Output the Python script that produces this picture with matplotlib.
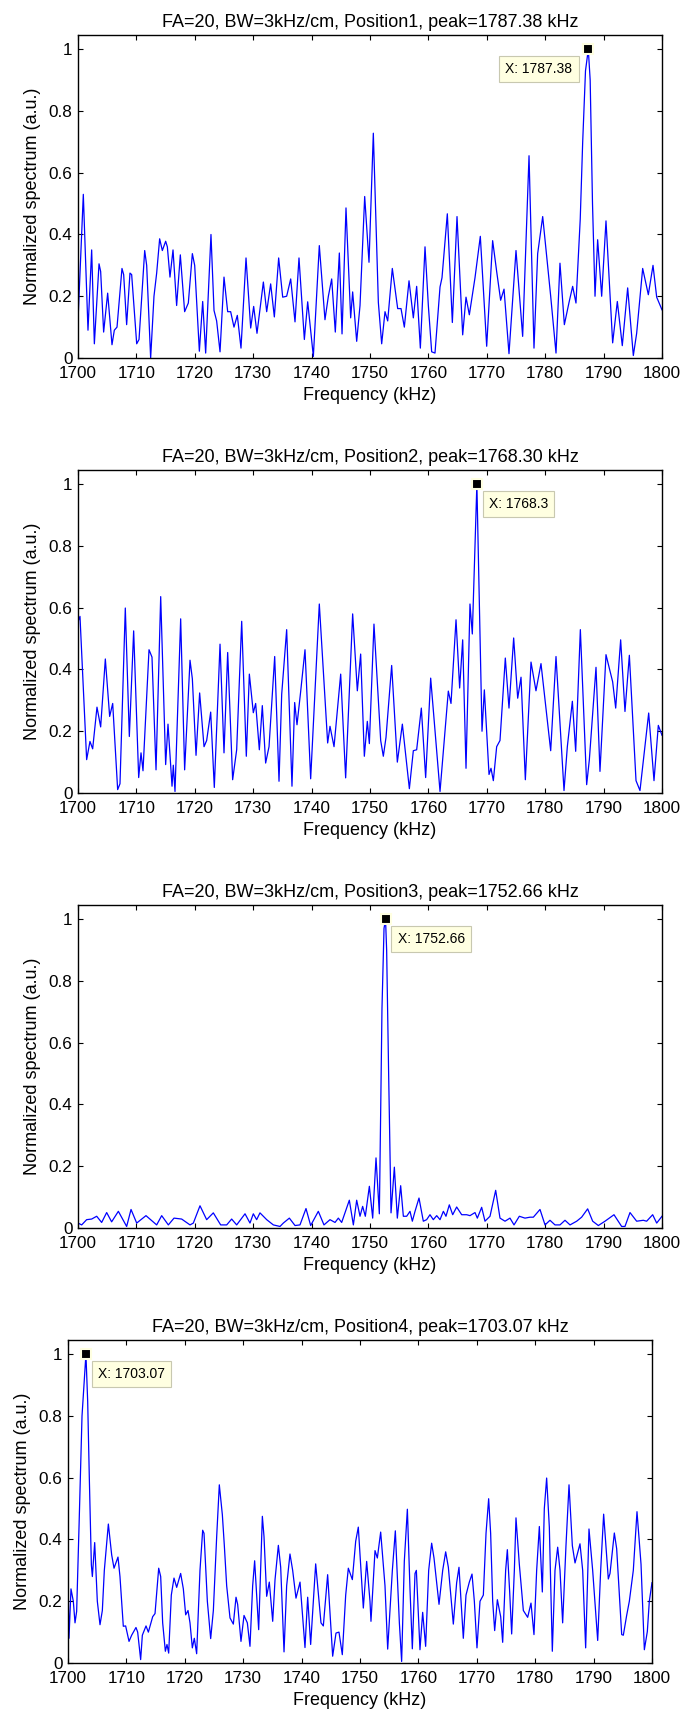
import matplotlib
matplotlib.use('Agg')
import matplotlib.pyplot as plt

plt.rcParams['font.family'] = ['Liberation Sans', 'DejaVu Sans']

# Position 1
freq1 = [1700.0, 1700.91, 1701.71, 1702.34, 1702.80, 1703.60, 1703.88, 1704.39, 1705.08, 1705.82,
         1706.22, 1706.68, 1707.53, 1707.82, 1708.33, 1708.90, 1709.19, 1710.05, 1710.45, 1711.42,
         1711.76, 1712.44, 1713.01, 1713.47, 1713.98, 1714.44, 1715.01, 1715.30, 1715.75, 1716.27,
         1716.89, 1717.52, 1718.26, 1718.89, 1719.58, 1719.98, 1720.78, 1721.35, 1721.86, 1722.77,
         1723.29, 1723.74, 1724.32, 1725.00, 1725.63, 1726.14, 1726.71, 1727.28, 1727.91, 1728.77,
         1729.57, 1730.08, 1730.65, 1731.74, 1732.31, 1732.99, 1733.62, 1734.36, 1735.05, 1735.73,
         1736.42, 1737.16, 1737.84, 1738.76, 1739.33, 1740.30, 1741.32, 1742.29, 1742.87, 1743.44,
         1744.06, 1744.75, 1745.21, 1745.89, 1746.69, 1747.03, 1747.72, 1748.29, 1749.09, 1749.83,
         1750.57, 1751.43, 1752.00, 1752.57, 1753.03, 1753.82, 1754.74, 1755.31, 1755.88, 1756.68,
         1757.42, 1757.99, 1758.62, 1759.42, 1759.99, 1760.56, 1761.13, 1761.99, 1762.33, 1763.24,
         1764.10, 1764.90, 1765.87, 1766.44, 1767.01, 1767.98, 1768.89, 1769.98, 1771.00, 1771.69,
         1772.37, 1772.95, 1773.80, 1775.00, 1776.14, 1777.23, 1778.08, 1778.71, 1779.57, 1780.94,
         1781.85, 1782.53, 1783.28, 1784.08, 1784.70, 1785.27, 1786.00, 1786.42, 1786.90, 1787.38,
         1787.70, 1788.10, 1788.53, 1788.98, 1789.67, 1790.41, 1791.55, 1792.35, 1793.20, 1794.12,
         1795.09, 1795.66, 1796.69, 1797.66, 1798.46, 1799.09, 1800.0]
spec1 = [0.12, 0.53, 0.09, 0.35, 0.046, 0.305, 0.28, 0.084, 0.21, 0.043,
         0.09, 0.10, 0.29, 0.27, 0.108, 0.275, 0.27, 0.046, 0.06, 0.348,
         0.30, 0.0, 0.2, 0.275, 0.386, 0.348, 0.378, 0.36, 0.262, 0.35,
         0.17, 0.334, 0.15, 0.178, 0.338, 0.30, 0.022, 0.183, 0.016, 0.40,
         0.154, 0.12, 0.02, 0.262, 0.15, 0.15, 0.10, 0.138, 0.032, 0.324,
         0.097, 0.167, 0.08, 0.246, 0.15, 0.24, 0.133, 0.324, 0.197, 0.2,
         0.256, 0.117, 0.324, 0.06, 0.182, 0.005, 0.364, 0.124, 0.2, 0.256,
         0.084, 0.34, 0.078, 0.486, 0.13, 0.214, 0.054, 0.17, 0.523, 0.31,
         0.728, 0.18, 0.046, 0.15, 0.12, 0.29, 0.16, 0.16, 0.10, 0.25,
         0.13, 0.232, 0.032, 0.36, 0.17, 0.02, 0.016, 0.23, 0.26, 0.467,
         0.115, 0.458, 0.075, 0.197, 0.14, 0.26, 0.394, 0.038, 0.38, 0.28,
         0.187, 0.223, 0.014, 0.348, 0.07, 0.655, 0.032, 0.338, 0.458, 0.2,
         0.016, 0.307, 0.108, 0.18, 0.232, 0.178, 0.45, 0.7, 0.93, 1.0,
         0.9, 0.5, 0.2, 0.383, 0.2, 0.444, 0.049, 0.183, 0.04, 0.227,
         0.008, 0.08, 0.29, 0.205, 0.30, 0.197, 0.156]

# Position 2
freq2 = [1700.0, 1700.34, 1701.48, 1702.05, 1702.51, 1703.25, 1703.88, 1704.68, 1705.42, 1705.94,
         1706.79, 1707.19, 1708.10, 1708.79, 1709.53, 1710.39, 1710.79, 1711.13, 1712.16, 1712.67,
         1713.36, 1714.16, 1715.01, 1715.41, 1716.10, 1716.32, 1716.61, 1717.58, 1718.26, 1719.18,
         1719.58, 1720.21, 1720.83, 1721.58, 1722.03, 1722.72, 1723.34, 1724.32, 1725.00, 1725.63,
         1726.48, 1727.17, 1728.03, 1728.82, 1729.34, 1730.02, 1730.42, 1731.05, 1731.56, 1732.13,
         1732.71, 1733.68, 1734.42, 1734.88, 1735.73, 1736.64, 1737.10, 1737.50, 1738.13, 1738.87,
         1739.84, 1741.32, 1742.75, 1743.15, 1743.84, 1744.98, 1745.83, 1747.03, 1747.83, 1748.40,
         1749.03, 1749.54, 1749.89,
         1750.68, 1751.83, 1752.28, 1752.74, 1753.71, 1754.68, 1755.54, 1756.74, 1757.42, 1757.99,
         1758.79, 1759.53, 1760.39, 1761.99, 1763.41, 1763.87, 1764.73, 1765.35, 1765.87, 1766.44,
         1767.12, 1767.52, 1768.30, 1769.18, 1769.58, 1770.38, 1770.72, 1771.12, 1771.69, 1772.26,
         1773.17, 1773.80, 1774.60, 1775.29, 1775.86, 1776.60, 1777.57, 1778.42, 1779.28, 1780.94,
         1781.85, 1783.22, 1783.79, 1784.65, 1785.22, 1786.02, 1787.10, 1787.56, 1788.70, 1789.38,
         1790.41, 1791.55, 1792.07, 1792.92, 1793.66, 1794.41, 1795.55, 1796.23, 1797.72, 1798.63,
         1799.37, 1800.0]
spec2 = [0.555, 0.572, 0.108, 0.167, 0.143, 0.278, 0.214, 0.434, 0.248, 0.29,
         0.011, 0.03, 0.599, 0.183, 0.525, 0.05, 0.13, 0.072, 0.464, 0.44,
         0.075, 0.636, 0.092, 0.223, 0.022, 0.09, 0.005, 0.564, 0.075, 0.43,
         0.37, 0.122, 0.324, 0.15, 0.17, 0.262, 0.018, 0.482, 0.13, 0.455,
         0.043, 0.14, 0.556, 0.119, 0.385, 0.26, 0.29, 0.14, 0.283, 0.097,
         0.15, 0.442, 0.038, 0.32, 0.529, 0.022, 0.293, 0.221, 0.329, 0.464,
         0.046, 0.612, 0.162, 0.216, 0.15, 0.385, 0.049, 0.58, 0.331, 0.45,
         0.119, 0.232, 0.16,
         0.547, 0.17, 0.119, 0.18, 0.413, 0.10, 0.223, 0.014, 0.137, 0.14,
         0.275, 0.05, 0.372, 0.005, 0.33, 0.29, 0.561, 0.34, 0.496, 0.08,
         0.612, 0.515, 1.0, 0.2, 0.334, 0.06, 0.08, 0.04, 0.15, 0.17,
         0.437, 0.275, 0.502, 0.307, 0.375, 0.043, 0.424, 0.331, 0.419, 0.137,
         0.442, 0.008, 0.15, 0.297, 0.135, 0.529, 0.027, 0.108, 0.407, 0.07,
         0.448, 0.36, 0.275, 0.496, 0.264, 0.446, 0.04, 0.008, 0.259, 0.04,
         0.219, 0.187]

# Position 3
freq3 = [1700.0, 1700.63, 1701.48, 1702.34, 1703.20, 1704.05, 1704.91, 1705.76, 1706.91, 1708.33,
         1709.08, 1710.05, 1711.64, 1713.47, 1714.33, 1715.47, 1716.44, 1717.75, 1719.18, 1719.75,
         1720.89, 1722.03, 1723.17, 1724.43, 1725.46, 1726.31, 1727.17, 1728.60, 1729.45, 1730.02,
         1730.59, 1731.16, 1732.31, 1733.45, 1734.59, 1735.16, 1736.19, 1737.16, 1738.01, 1739.04,
         1739.84, 1741.15, 1742.12, 1743.15, 1744.01, 1744.58, 1745.15, 1746.46, 1747.15, 1747.72,
         1748.29, 1748.74, 1749.20, 1749.89,
         1750.46, 1751.03, 1751.60, 1751.83, 1752.05, 1752.40, 1752.66, 1752.85, 1753.20, 1753.60,
         1754.17, 1754.68, 1755.25, 1755.71, 1756.28, 1756.85, 1757.25, 1757.71, 1758.39, 1759.13,
         1759.70, 1760.27, 1760.84, 1761.42, 1761.99, 1762.56, 1763.01, 1763.58, 1764.16, 1764.84,
         1765.70, 1766.55, 1767.12, 1767.98, 1768.38, 1769.12, 1769.69, 1770.55, 1771.52, 1772.26,
         1773.12, 1773.97, 1774.66, 1775.57, 1776.54, 1777.40, 1777.97, 1779.11, 1779.97, 1780.82,
         1781.68, 1782.53, 1783.39, 1784.25, 1785.39, 1786.24, 1787.27, 1788.13, 1789.10, 1790.24,
         1791.78, 1793.09, 1793.66, 1794.52, 1795.66, 1796.80, 1797.37, 1798.40, 1799.09, 1800.0]
spec3 = [0.016, 0.01, 0.027, 0.029, 0.038, 0.018, 0.05, 0.02, 0.054, 0.005,
         0.06, 0.016, 0.04, 0.01, 0.04, 0.01, 0.032, 0.029, 0.01, 0.016,
         0.072, 0.027, 0.049, 0.01, 0.01, 0.029, 0.01, 0.046, 0.016, 0.046,
         0.027, 0.049, 0.027, 0.01, 0.005, 0.016, 0.032, 0.008, 0.01, 0.063,
         0.008, 0.054, 0.01, 0.027, 0.018, 0.032, 0.018, 0.09, 0.01, 0.09,
         0.038, 0.07, 0.038, 0.135,
         0.032, 0.227, 0.046, 0.38, 0.71, 0.97, 1.0, 0.9, 0.49, 0.049,
         0.197, 0.032, 0.137, 0.038, 0.038, 0.054, 0.022, 0.054, 0.097, 0.022,
         0.027, 0.043, 0.027, 0.04, 0.027, 0.054, 0.038, 0.075, 0.043, 0.068,
         0.043, 0.043, 0.04, 0.05, 0.032, 0.067, 0.022, 0.038, 0.122, 0.032,
         0.022, 0.032, 0.01, 0.038, 0.032, 0.035, 0.035, 0.06, 0.01, 0.025,
         0.01, 0.01, 0.025, 0.01, 0.022, 0.035, 0.062, 0.022, 0.008, 0.022,
         0.043, 0.005, 0.005, 0.05, 0.022, 0.025, 0.022, 0.043, 0.016, 0.038]

# Position 4
freq4 = [1700.00, 1700.17, 1700.51, 1700.91, 1701.20, 1701.48, 1701.90, 1702.40, 1703.07, 1703.37,
         1703.65, 1704.00, 1704.17, 1704.57, 1705.02, 1705.48, 1705.88, 1706.22, 1706.91, 1707.48,
         1707.88, 1708.56, 1708.90, 1709.47, 1709.87, 1710.45, 1710.90, 1711.64, 1711.93, 1712.44,
         1712.73, 1713.36, 1713.76, 1714.50, 1714.90, 1715.53, 1715.87, 1716.21, 1716.67, 1716.95,
         1717.24, 1717.69, 1718.15, 1718.61, 1719.29, 1719.75, 1720.15, 1720.55, 1720.89, 1721.29,
         1721.63, 1722.03, 1722.60, 1723.06, 1723.29, 1723.86, 1724.43, 1724.89, 1725.46, 1725.91,
         1726.43, 1726.77, 1727.17, 1727.74, 1728.31, 1728.77, 1729.05, 1729.62, 1730.14, 1730.71,
         1731.16, 1731.62, 1731.96, 1732.31, 1732.65, 1733.28, 1733.56, 1734.02, 1734.47, 1735.05,
         1735.45, 1736.02, 1736.42, 1736.99, 1737.44, 1738.01, 1738.47, 1739.04, 1739.73, 1740.58,
         1741.04, 1741.55, 1742.41, 1743.32, 1743.72, 1744.46, 1745.32, 1745.89, 1746.40, 1746.97,
         1747.55, 1748.00, 1748.69, 1749.26, 1749.71, 1750.57, 1751.14, 1751.71,
         1751.88, 1752.57, 1752.97, 1753.54, 1754.28, 1754.74, 1755.54, 1756.05, 1756.74, 1757.13,
         1757.59, 1758.11, 1758.56, 1758.96, 1759.42, 1759.65, 1760.27, 1760.73, 1761.24, 1761.76,
         1762.27, 1762.67, 1763.53, 1764.16, 1764.67, 1765.13, 1765.98, 1766.55, 1766.95, 1767.69,
         1768.15, 1768.72, 1769.18, 1769.58, 1770.03, 1770.55, 1771.12, 1771.58, 1772.03, 1772.37,
         1772.72, 1773.06, 1773.52, 1774.09, 1774.43, 1774.94, 1775.23, 1775.63, 1775.97, 1776.43,
         1776.71, 1777.28, 1777.97, 1778.71, 1779.28, 1779.79, 1780.25, 1780.71, 1781.22, 1781.56,
         1781.96, 1782.42, 1782.93, 1783.39, 1783.85, 1784.25, 1784.70, 1785.27, 1785.79, 1786.36,
         1786.82, 1787.67, 1788.13, 1788.64, 1789.21, 1789.84, 1790.70, 1791.21, 1791.72, 1792.52,
         1792.81, 1793.55, 1793.95, 1794.81, 1795.09, 1795.66, 1796.12, 1796.80, 1797.43, 1798.12,
         1798.69, 1799.20, 1799.54, 1800.0]
spec4 = [0.27, 0.08, 0.24, 0.2, 0.13, 0.167, 0.45, 0.8, 1.0, 0.847,
         0.6, 0.318, 0.28, 0.39, 0.2, 0.124, 0.17, 0.3, 0.45, 0.35,
         0.307, 0.343, 0.28, 0.119, 0.12, 0.07, 0.09, 0.115, 0.10, 0.011,
         0.09, 0.12, 0.10, 0.15, 0.16, 0.307, 0.28, 0.13, 0.038, 0.06,
         0.032, 0.22, 0.275, 0.245, 0.29, 0.24, 0.156, 0.17, 0.13, 0.049,
         0.08, 0.03, 0.3, 0.43, 0.42, 0.2, 0.079, 0.17, 0.41, 0.577,
         0.48, 0.38, 0.25, 0.146, 0.126, 0.213, 0.19, 0.07, 0.154, 0.13,
         0.054, 0.25, 0.331, 0.22, 0.108, 0.475, 0.41, 0.216, 0.262, 0.135,
         0.27, 0.381, 0.31, 0.036, 0.25, 0.353, 0.3, 0.21, 0.262, 0.05,
         0.213, 0.06, 0.321, 0.13, 0.12, 0.286, 0.022, 0.097, 0.1, 0.027,
         0.22, 0.307, 0.27, 0.394, 0.44, 0.178, 0.329, 0.2,
         0.135, 0.364, 0.34, 0.424, 0.25, 0.045, 0.3, 0.428, 0.13, 0.005,
         0.33, 0.498, 0.24, 0.046, 0.29, 0.3, 0.043, 0.164, 0.054, 0.3,
         0.388, 0.34, 0.19, 0.3, 0.36, 0.31, 0.126, 0.26, 0.31, 0.08,
         0.22, 0.262, 0.288, 0.2, 0.049, 0.2, 0.22, 0.42, 0.532, 0.42,
         0.2, 0.105, 0.205, 0.15, 0.067, 0.3, 0.367, 0.23, 0.094, 0.3,
         0.47, 0.32, 0.17, 0.148, 0.194, 0.092, 0.3, 0.442, 0.23, 0.5,
         0.599, 0.44, 0.038, 0.3, 0.375, 0.3, 0.13, 0.38, 0.577, 0.38,
         0.324, 0.386, 0.3, 0.049, 0.434, 0.3, 0.073, 0.3, 0.482, 0.272,
         0.29, 0.421, 0.37, 0.092, 0.09, 0.154, 0.2, 0.3, 0.49, 0.32,
         0.043, 0.102, 0.2, 0.26]

freqs = [freq1, freq2, freq3, freq4]
specs = [spec1, spec2, spec3, spec4]
peaks = ['1787.38', '1768.30', '1752.66', '1703.07']
tip_x = [1787.38, 1768.3, 1752.66, 1703.07]
tip_text = ['X: 1787.38', 'X: 1768.3', 'X: 1752.66', 'X: 1703.07']
xticks = list(range(1700, 1801, 10))
yticks = [0, 0.2, 0.4, 0.6, 0.8, 1]
ytick_labels = ['0', '0.2', '0.4', '0.6', '0.8', '1']

W, H = 687, 1713
# axes boxes in pixels: left, bottom (y from top)
boxes = [(78, 358), (78, 793), (78, 1228), (68, 1663)]

fig = plt.figure(figsize=(W / 100, H / 100), dpi=100)

for i in range(4):
    left, bottom = boxes[i]
    ax = fig.add_axes([left / W, 1 - bottom / H, 584 / W, 323 / H])
    ax.plot(freqs[i], specs[i], color=(0, 0, 1), lw=0.9)
    ax.set_xlim(1700, 1800)
    ax.set_ylim(0, 1.046)
    ax.set_xticks(xticks)
    ax.set_yticks(yticks)
    ax.set_yticklabels(ytick_labels)
    ax.tick_params(direction='in', top=True, right=True, length=3.6, width=0.8,
                   labelsize=12.3, colors='black')
    ax.tick_params(axis='x', pad=6)
    ax.tick_params(axis='y', pad=4)
    for sp in ax.spines.values():
        sp.set_linewidth(1.0)
    ax.set_title('FA=20, BW=3kHz/cm, Position%d, peak=%s kHz' % (i + 1, peaks[i]),
                 fontsize=13, pad=6)
    ax.set_xlabel('Frequency (kHz)', fontsize=13, labelpad=4)
    ax.set_ylabel('Normalized spectrum (a.u.)', fontsize=13, labelpad=5.5)

    # data tip marker and box
    ax.plot([tip_x[i]], [1.0], 's', color='black', ms=7.5, mec='#FFFFE1', mew=1.5,
            clip_on=False, zorder=5)
    if i == 0:
        off, ha = (-16, -20), 'right'
    else:
        off, ha = (12, -20), 'left'
    ax.annotate(tip_text[i], xy=(tip_x[i], 1.0), xytext=off, textcoords='offset pixels',
                ha=ha, va='center', fontsize=10,
                bbox=dict(boxstyle='square,pad=0.45', fc='#FFFFE1', ec='#C8C8B0', lw=0.8),
                zorder=6)

fig.savefig('out.png', dpi=100)
